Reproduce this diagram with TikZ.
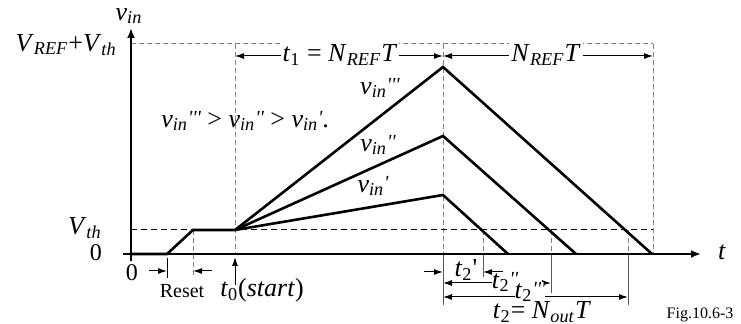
\documentclass[tikz,border=0pt]{standalone}
\usepackage{fontspec}
\setmainfont{Liberation Serif}
\usetikzlibrary{arrows.meta}
\newcommand{\ii}[1]{\textit{#1}}
\newcommand{\lo}[1]{\textsubscript{#1}}
\newcommand{\pr}{\textquotesingle}
\newcommand{\prs}[1]{\raisebox{0.25ex}{\fontsize{10}{10}\selectfont\itshape #1}}
\newcommand{\vin}{\ii{v}\lo{\ii{in}}}
\begin{document}
\begin{tikzpicture}[x=0.5pt,y=-0.5pt,
  thickline/.style={line width=1.3pt},
  axisline/.style={line width=1pt,-{Latex[length=5pt,width=4pt]}},
  gdash/.style={gray, line width=0.5pt, dash pattern=on 2.5pt off 1.5pt},
  kdash/.style={black, line width=0.5pt, dash pattern=on 3pt off 2pt},
  gline/.style={gray!70!black, line width=0.5pt},
  tip/.style={line width=0.5pt,-{Latex[length=4.5pt,width=3pt]}},
  dim/.style={line width=0.5pt,{Latex[length=4.5pt,width=3pt]}-{Latex[length=4.5pt,width=3pt]}},
  lab/.style={font=\fontsize{13}{15}\selectfont, inner sep=1pt},
  wlab/.style={lab, fill=white},
  small/.style={font=\fontsize{10}{12}\selectfont, inner sep=1pt}]
\useasboundingbox (0,0) rectangle (741,324);
% key points
\coordinate (O) at (131,254);
\coordinate (yb) at (131,261);
\coordinate (yt) at (131,28);
\coordinate (tl) at (123,254);
\coordinate (tr) at (701,254);
\coordinate (r1) at (167,254);
\coordinate (r2) at (193,230);
\coordinate (s) at (235,230);
\coordinate (p3) at (443,67);
\coordinate (p2) at (443,136);
\coordinate (p1) at (443,195);
\coordinate (e3) at (652,254);
\coordinate (e2) at (576,254);
\coordinate (e1) at (508,254);
% reference grid lines
\coordinate (ta) at (131,44);
\coordinate (tb) at (653,44);
\coordinate (va) at (235,44);
\coordinate (vab) at (235,254);
\coordinate (vb) at (443,44);
\coordinate (vbb) at (443,254);
\coordinate (vbc) at (443,305);
\coordinate (vc) at (653,44);
\coordinate (vcb) at (653,254);
\coordinate (ha) at (131,230);
\coordinate (hb) at (653,230);
\draw[gdash] (ta) -- (tb);
\draw[gdash] (va) -- (vab);
\draw[gdash] (vb) -- (vbb);
\draw[gdash] (vc) -- (vcb);
\draw[kdash] (ha) -- (hb);
\coordinate (d1a) at (193,230); \coordinate (d1b) at (193,278);
\draw[gdash] (d1a) -- (d1b);
\coordinate (k1a) at (167,258); \coordinate (k1b) at (167,278);
\draw[line width=0.5pt] (k1a) -- (k1b);
\draw[gline] (vbb) -- (vbc);
\coordinate (x1a) at (483,230); \coordinate (x1b) at (483,254); \coordinate (x1c) at (483,277);
\coordinate (x2a) at (551,230); \coordinate (x2b) at (551,254); \coordinate (x2c) at (551,293);
\coordinate (x3a) at (628,230); \coordinate (x3b) at (628,254); \coordinate (x3c) at (628,305);
\draw[gdash] (x1a) -- (x1b); \draw[gline] (x1b) -- (x1c);
\draw[gdash] (x2a) -- (x2b); \draw[gline] (x2b) -- (x2c);
\draw[gdash] (x3a) -- (x3b); \draw[gline] (x3b) -- (x3c);
% axes
\draw[axisline] (yb) -- (yt);
\draw[axisline] (tl) -- (tr);
% waveforms
\draw[thickline] (O) -- (r1) -- (r2) -- (s) -- (p3) -- (e3);
\draw[thickline] (s) -- (p2) -- (e2);
\draw[thickline] (s) -- (p1) -- (e1);
% dimension arrows top
\coordinate (m1) at (235,56); \coordinate (m2) at (443,56); \coordinate (m3) at (653,56);
\draw[dim] (m1) -- (m2);
\draw[dim] (m2) -- (m3);
\node[wlab] (t1lab) at (340,55) {\ii{t}\lo{1} = \ii{N}\lo{\ii{REF}}\ii{T}};
\node[wlab] (nlab) at (546,55) {\ii{N}\lo{\ii{REF}}\ii{T}};
% reset arrows
\coordinate (ra) at (149,271); \coordinate (rb) at (167,271);
\coordinate (rc) at (212,271); \coordinate (rd) at (193,271);
\draw[tip] (ra) -- (rb);
\draw[tip] (rc) -- (rd);
% start arrow
\coordinate (sa) at (235,285); \coordinate (sb) at (235,257);
\draw[tip] (sa) -- (sb);
% t2 arrows
\coordinate (ua) at (424,272); \coordinate (ub) at (443,272);
\coordinate (uc) at (503,272); \coordinate (ud) at (483,272);
\draw[tip] (ua) -- (ub);
\draw[tip] (uc) -- (ud);
\coordinate (w1) at (443,283); \coordinate (w2) at (551,283);
\draw[dim] (w1) -- (w2);
\coordinate (z1) at (443,297); \coordinate (z2) at (628,297);
\draw[dim] (z1) -- (z2);
\node[lab] (t2a) at (466,270) {\ii{t}\lo{2}\pr};
\node[wlab, inner sep=0pt] (t2b) at (505,282) {\ii{t}\lo{2}\prs{\pr\pr}};
\node[wlab, inner sep=0pt] (t2c) at (530,292) {\ii{t}\lo{2}\prs{\pr\pr\pr}};
\node[lab] (t2d) at (542,312) {\ii{t}\lo{2}= \ii{N}\lo{\ii{out}}\ii{T}};
% labels
\node[lab] (vinlab) at (129,16) {\vin};
\node[lab, anchor=east] (vreflab) at (119,45) {\ii{V}\lo{\ii{REF}}+\ii{V}\lo{\ii{th}}};
\node[lab, anchor=east] (vthlab) at (104,228) {\ii{V}\lo{\ii{th}}};
\node[font=\fontsize{12}{14}\selectfont, inner sep=1pt] (zlab) at (96,253) {0};
\node[font=\fontsize{12}{14}\selectfont, inner sep=1pt] (zlab2) at (132,273) {0};
\node[small] (reslab) at (182,291) {Reset};
\node[lab] (t0lab) at (262,290) {\ii{t}\lo{0}(\ii{start})};
\node[lab] (tlab) at (722,252) {\ii{t}};
\node[lab] (v3lab) at (380,88) {\vin\prs{\pr\pr\pr}};
\node[lab] (v2lab) at (378,145) {\vin\prs{\pr\pr}};
\node[lab] (v1lab) at (373,186) {\vin\prs{\pr}};
\node[lab, anchor=west] (cmplab) at (159,121) {\vin\prs{\pr\pr\pr} > \vin\prs{\pr\pr} > \vin\prs{\pr}.};
\node[font=\fontsize{8}{10}\selectfont, inner sep=1pt] (figlab) at (700,315) {Fig.10.6-3};
\end{tikzpicture}
\end{document}
